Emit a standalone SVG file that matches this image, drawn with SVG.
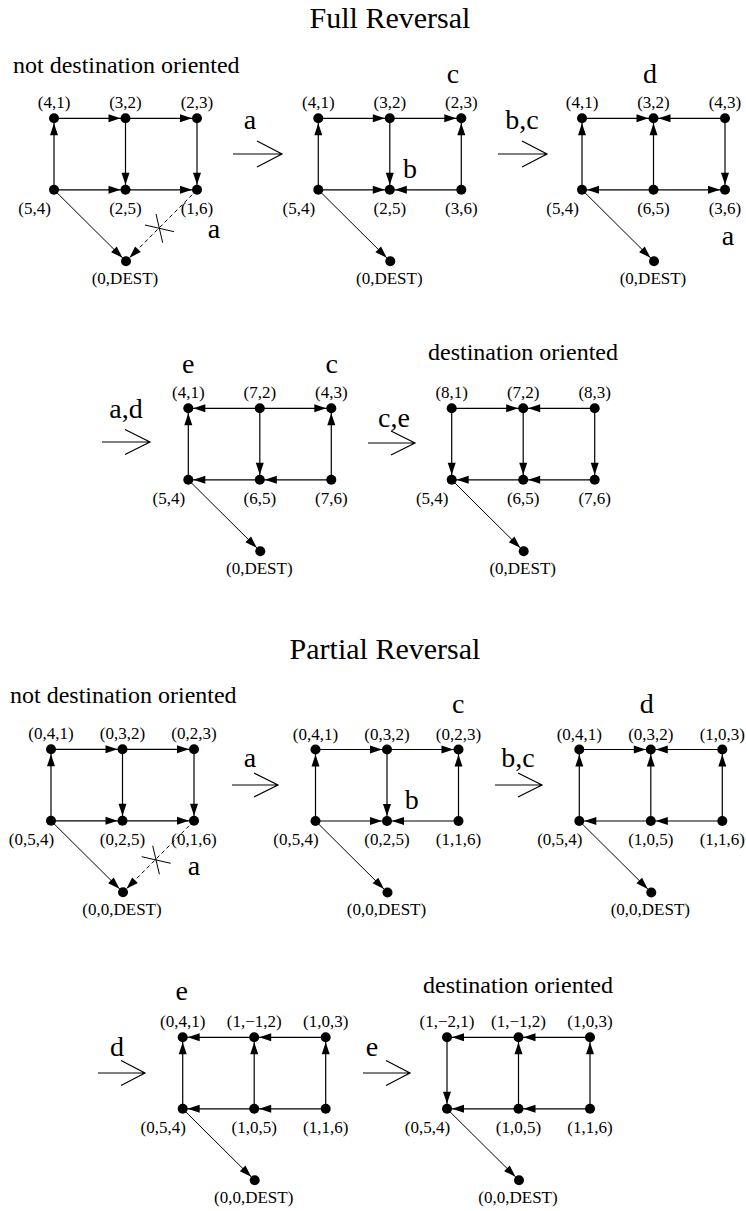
<svg xmlns="http://www.w3.org/2000/svg" width="746" height="1211" viewBox="0 0 746 1211">
<defs>
<marker id="ah" markerUnits="userSpaceOnUse" markerWidth="12" markerHeight="8" refX="17" refY="0" orient="auto" overflow="visible">
<path d="M0,-4 L12,0 L0,4 z" fill="#000"/>
</marker>
</defs>
<style>
text{font-family:"Liberation Serif","Times New Roman",serif;fill:#000}
.lbl{font-size:17px;text-anchor:middle}
.big{font-size:28px;text-anchor:middle}
.phr{font-size:24px}
.title{font-size:30px;text-anchor:middle}
.e{stroke:#000;stroke-width:1.2;fill:none;marker-end:url(#ah)}
.dg{stroke-width:1}
.dash{stroke-dasharray:4 3}
.x{stroke:#000;stroke-width:1;fill:none}
.arr{stroke:#000;stroke-width:1.2;fill:none}
circle{fill:#000}
</style>
<rect width="746" height="1211" fill="#fff"/>

<text class="title" x="390" y="28">Full Reversal</text>
<text class="phr" x="13" y="73">not destination oriented</text>
<text class="phr" x="428" y="360">destination oriented</text>
<text class="title" x="385" y="659">Partial Reversal</text>
<text class="phr" x="10" y="703">not destination oriented</text>
<text class="phr" x="423" y="993">destination oriented</text>

<g id="connectors">
 <g id="c1" transform="translate(54,118.3)">
  <line class="e" x1="0" y1="71.5" x2="0" y2="0"/>
  <line class="e" x1="0" y1="0" x2="71.5" y2="0"/>
  <line class="e" x1="71.5" y1="0" x2="143" y2="0"/>
  <line class="e" x1="71.5" y1="0" x2="71.5" y2="71.5"/>
  <line class="e" x1="143" y1="0" x2="143" y2="71.5"/>
  <line class="e" x1="0" y1="71.5" x2="71.5" y2="71.5"/>
  <line class="e" x1="71.5" y1="71.5" x2="143" y2="71.5"/>
  <line class="e dg" x1="0" y1="71.5" x2="72" y2="143"/>
  <line class="e dg dash" x1="143" y1="71.5" x2="72" y2="143"/>
  <path class="x" d="M91,106.7 L120,113.4 M102,95.7 L108.7,124.4"/>
 </g>
 <g id="c2" transform="translate(318.3,118.3)">
  <line class="e" x1="0" y1="71.5" x2="0" y2="0"/>
  <line class="e" x1="0" y1="0" x2="71.5" y2="0"/>
  <line class="e" x1="71.5" y1="0" x2="143" y2="0"/>
  <line class="e" x1="71.5" y1="0" x2="71.5" y2="71.5"/>
  <line class="e" x1="143" y1="71.5" x2="143" y2="0"/>
  <line class="e" x1="0" y1="71.5" x2="71.5" y2="71.5"/>
  <line class="e" x1="143" y1="71.5" x2="71.5" y2="71.5"/>
  <line class="e dg" x1="0" y1="71.5" x2="72" y2="143"/>
 </g>
 <g id="c3" transform="translate(582,118.3)">
  <line class="e" x1="0" y1="71.5" x2="0" y2="0"/>
  <line class="e" x1="0" y1="0" x2="71.5" y2="0"/>
  <line class="e" x1="143" y1="0" x2="71.5" y2="0"/>
  <line class="e" x1="143" y1="0" x2="143" y2="71.5"/>
  <line class="e" x1="71.5" y1="71.5" x2="71.5" y2="0"/>
  <line class="e" x1="71.5" y1="71.5" x2="0" y2="71.5"/>
  <line class="e" x1="71.5" y1="71.5" x2="143" y2="71.5"/>
  <line class="e dg" x1="0" y1="71.5" x2="72" y2="143"/>
 </g>
 <g id="c4" transform="translate(188.3,408.3)">
  <line class="e" x1="0" y1="71.5" x2="0" y2="0"/>
  <line class="e" x1="71.5" y1="0" x2="0" y2="0"/>
  <line class="e" x1="71.5" y1="0" x2="143" y2="0"/>
  <line class="e" x1="71.5" y1="0" x2="71.5" y2="71.5"/>
  <line class="e" x1="143" y1="71.5" x2="143" y2="0"/>
  <line class="e" x1="71.5" y1="71.5" x2="0" y2="71.5"/>
  <line class="e" x1="143" y1="71.5" x2="71.5" y2="71.5"/>
  <line class="e dg" x1="0" y1="71.5" x2="72" y2="143"/>
 </g>
 <g id="c5" transform="translate(451.7,408.3)">
  <line class="e" x1="0" y1="0" x2="0" y2="71.5"/>
  <line class="e" x1="0" y1="0" x2="71.5" y2="0"/>
  <line class="e" x1="143" y1="0" x2="71.5" y2="0"/>
  <line class="e" x1="71.5" y1="0" x2="71.5" y2="71.5"/>
  <line class="e" x1="143" y1="0" x2="143" y2="71.5"/>
  <line class="e" x1="71.5" y1="71.5" x2="0" y2="71.5"/>
  <line class="e" x1="143" y1="71.5" x2="71.5" y2="71.5"/>
  <line class="e dg" x1="0" y1="71.5" x2="72" y2="143"/>
 </g>
 <g id="c6" transform="translate(51,749.3)">
  <line class="e" x1="0" y1="71.5" x2="0" y2="0"/>
  <line class="e" x1="0" y1="0" x2="71.5" y2="0"/>
  <line class="e" x1="71.5" y1="0" x2="143" y2="0"/>
  <line class="e" x1="71.5" y1="0" x2="71.5" y2="71.5"/>
  <line class="e" x1="143" y1="0" x2="143" y2="71.5"/>
  <line class="e" x1="0" y1="71.5" x2="71.5" y2="71.5"/>
  <line class="e" x1="71.5" y1="71.5" x2="143" y2="71.5"/>
  <line class="e dg" x1="0" y1="71.5" x2="72" y2="143"/>
  <line class="e dg dash" x1="143" y1="71.5" x2="72" y2="143"/>
  <path class="x" d="M90.7,107.4 L119.7,114 M101.7,96.4 L108.4,125"/>
 </g>
 <g id="c7" transform="translate(315.5,749.5)">
  <line class="e" x1="0" y1="71.5" x2="0" y2="0"/>
  <line class="e" x1="0" y1="0" x2="71.5" y2="0"/>
  <line class="e" x1="71.5" y1="0" x2="143" y2="0"/>
  <line class="e" x1="71.5" y1="0" x2="71.5" y2="71.5"/>
  <line class="e" x1="143" y1="71.5" x2="143" y2="0"/>
  <line class="e" x1="0" y1="71.5" x2="71.5" y2="71.5"/>
  <line class="e" x1="143" y1="71.5" x2="71.5" y2="71.5"/>
  <line class="e dg" x1="0" y1="71.5" x2="72" y2="143"/>
 </g>
 <g id="c8" transform="translate(579.3,749.5)">
  <line class="e" x1="0" y1="71.5" x2="0" y2="0"/>
  <line class="e" x1="0" y1="0" x2="71.5" y2="0"/>
  <line class="e" x1="143" y1="0" x2="71.5" y2="0"/>
  <line class="e" x1="71.5" y1="71.5" x2="71.5" y2="0"/>
  <line class="e" x1="143" y1="71.5" x2="143" y2="0"/>
  <line class="e" x1="71.5" y1="71.5" x2="0" y2="71.5"/>
  <line class="e" x1="143" y1="71.5" x2="71.5" y2="71.5"/>
  <line class="e dg" x1="0" y1="71.5" x2="72" y2="143"/>
 </g>
 <g id="c9" transform="translate(182.7,1037.3)">
  <line class="e" x1="0" y1="71.5" x2="0" y2="0"/>
  <line class="e" x1="71.5" y1="0" x2="0" y2="0"/>
  <line class="e" x1="143" y1="0" x2="71.5" y2="0"/>
  <line class="e" x1="71.5" y1="71.5" x2="71.5" y2="0"/>
  <line class="e" x1="143" y1="71.5" x2="143" y2="0"/>
  <line class="e" x1="71.5" y1="71.5" x2="0" y2="71.5"/>
  <line class="e" x1="143" y1="71.5" x2="71.5" y2="71.5"/>
  <line class="e dg" x1="0" y1="71.5" x2="72" y2="143"/>
 </g>
 <g id="c10" transform="translate(447,1037.3)">
  <line class="e" x1="0" y1="0" x2="0" y2="71.5"/>
  <line class="e" x1="71.5" y1="0" x2="0" y2="0"/>
  <line class="e" x1="143" y1="0" x2="71.5" y2="0"/>
  <line class="e" x1="71.5" y1="71.5" x2="71.5" y2="0"/>
  <line class="e" x1="143" y1="71.5" x2="143" y2="0"/>
  <line class="e" x1="71.5" y1="71.5" x2="0" y2="71.5"/>
  <line class="e" x1="143" y1="71.5" x2="71.5" y2="71.5"/>
  <line class="e dg" x1="0" y1="71.5" x2="72" y2="143"/>
 </g>
 <g id="transitions">
  <path class="arr" d="M233,154 H282 M257,141 L282,154 L257,167"/>
  <path class="arr" d="M498,154 H547 M522,141 L547,154 L522,167"/>
  <path class="arr" d="M102,442 H150 M125,429.5 L150,442 L125,454.5"/>
  <path class="arr" d="M368,443 H415 M391,431 L415,443 L391,455"/>
  <path class="arr" d="M232,785 H278 M254,773 L278,785 L254,797"/>
  <path class="arr" d="M495,785 H542 M518,773 L542,785 L518,797"/>
  <path class="arr" d="M98,1073 H145 M121,1060.5 L145,1073 L121,1085.5"/>
  <path class="arr" d="M363,1073 H410 M386,1060.5 L410,1073 L386,1085.5"/>
  <text class="big" x="250" y="129">a</text>
  <text class="big" x="522" y="129">b,c</text>
  <text class="big" x="126" y="418">a,d</text>
  <text class="big" x="394" y="427">c,e</text>
  <text class="big" x="250" y="767">a</text>
  <text class="big" x="518" y="767">b,c</text>
  <text class="big" x="117" y="1056">d</text>
  <text class="big" x="372" y="1056">e</text>
 </g>
</g>

<g id="panel1" transform="translate(54,118.3)">
 <g id="p1-tl"><circle cx="0" cy="0" r="5"/><text class="lbl" x="0" y="-10">(4,1)</text></g>
 <g id="p1-tm"><circle cx="71.5" cy="0" r="5"/><text class="lbl" x="71.5" y="-10">(3,2)</text></g>
 <g id="p1-tr"><circle cx="143" cy="0" r="5"/><text class="lbl" x="143" y="-10">(2,3)</text></g>
 <g id="p1-bl"><circle cx="0" cy="71.5" r="5"/><text class="lbl" x="-19.5" y="95.5">(5,4)</text></g>
 <g id="p1-bm"><circle cx="71.5" cy="71.5" r="5"/><text class="lbl" x="71.5" y="95.5">(2,5)</text></g>
 <g id="p1-br"><circle cx="143" cy="71.5" r="5"/><text class="lbl" x="143" y="95.5">(1,6)</text></g>
 <g id="p1-d"><circle cx="72" cy="143" r="5"/><text class="lbl" x="71" y="165.5">(0,DEST)</text></g>
 <text class="big" x="160" y="120">a</text>
</g>

<g id="panel2" transform="translate(318.3,118.3)">
 <g id="p2-tl"><circle cx="0" cy="0" r="5"/><text class="lbl" x="0" y="-10">(4,1)</text></g>
 <g id="p2-tm"><circle cx="71.5" cy="0" r="5"/><text class="lbl" x="71.5" y="-10">(3,2)</text></g>
 <g id="p2-tr"><circle cx="143" cy="0" r="5"/><text class="lbl" x="143" y="-10">(2,3)</text></g>
 <g id="p2-bl"><circle cx="0" cy="71.5" r="5"/><text class="lbl" x="-19.5" y="95.5">(5,4)</text></g>
 <g id="p2-bm"><circle cx="71.5" cy="71.5" r="5"/><text class="lbl" x="71.5" y="95.5">(2,5)</text></g>
 <g id="p2-br"><circle cx="143" cy="71.5" r="5"/><text class="lbl" x="143" y="95.5">(3,6)</text></g>
 <g id="p2-d"><circle cx="72" cy="143" r="5"/><text class="lbl" x="71" y="165.5">(0,DEST)</text></g>
 <text class="big" x="134.7" y="-35.3">c</text>
 <text class="big" x="91.7" y="59.7">b</text>
</g>

<g id="panel3" transform="translate(582,118.3)">
 <g id="p3-tl"><circle cx="0" cy="0" r="5"/><text class="lbl" x="0" y="-10">(4,1)</text></g>
 <g id="p3-tm"><circle cx="71.5" cy="0" r="5"/><text class="lbl" x="71.5" y="-10">(3,2)</text></g>
 <g id="p3-tr"><circle cx="143" cy="0" r="5"/><text class="lbl" x="143" y="-10">(4,3)</text></g>
 <g id="p3-bl"><circle cx="0" cy="71.5" r="5"/><text class="lbl" x="-19.5" y="95.5">(5,4)</text></g>
 <g id="p3-bm"><circle cx="71.5" cy="71.5" r="5"/><text class="lbl" x="71.5" y="95.5">(6,5)</text></g>
 <g id="p3-br"><circle cx="143" cy="71.5" r="5"/><text class="lbl" x="143" y="95.5">(3,6)</text></g>
 <g id="p3-d"><circle cx="72" cy="143" r="5"/><text class="lbl" x="71" y="165.5">(0,DEST)</text></g>
 <text class="big" x="68" y="-35.3">d</text>
 <text class="big" x="146" y="126.7">a</text>
</g>

<g id="panel4" transform="translate(188.3,408.3)">
 <g id="p4-tl"><circle cx="0" cy="0" r="5"/><text class="lbl" x="0" y="-10">(4,1)</text></g>
 <g id="p4-tm"><circle cx="71.5" cy="0" r="5"/><text class="lbl" x="71.5" y="-10">(7,2)</text></g>
 <g id="p4-tr"><circle cx="143" cy="0" r="5"/><text class="lbl" x="143" y="-10">(4,3)</text></g>
 <g id="p4-bl"><circle cx="0" cy="71.5" r="5"/><text class="lbl" x="-19.5" y="95.5">(5,4)</text></g>
 <g id="p4-bm"><circle cx="71.5" cy="71.5" r="5"/><text class="lbl" x="71.5" y="95.5">(6,5)</text></g>
 <g id="p4-br"><circle cx="143" cy="71.5" r="5"/><text class="lbl" x="143" y="95.5">(7,6)</text></g>
 <g id="p4-d"><circle cx="72" cy="143" r="5"/><text class="lbl" x="71" y="165.5">(0,DEST)</text></g>
 <text class="big" x="0" y="-35.3">e</text>
 <text class="big" x="143.4" y="-35.3">c</text>
</g>

<g id="panel5" transform="translate(451.7,408.3)">
 <g id="p5-tl"><circle cx="0" cy="0" r="5"/><text class="lbl" x="0" y="-10">(8,1)</text></g>
 <g id="p5-tm"><circle cx="71.5" cy="0" r="5"/><text class="lbl" x="71.5" y="-10">(7,2)</text></g>
 <g id="p5-tr"><circle cx="143" cy="0" r="5"/><text class="lbl" x="143" y="-10">(8,3)</text></g>
 <g id="p5-bl"><circle cx="0" cy="71.5" r="5"/><text class="lbl" x="-19.5" y="95.5">(5,4)</text></g>
 <g id="p5-bm"><circle cx="71.5" cy="71.5" r="5"/><text class="lbl" x="71.5" y="95.5">(6,5)</text></g>
 <g id="p5-br"><circle cx="143" cy="71.5" r="5"/><text class="lbl" x="143" y="95.5">(7,6)</text></g>
 <g id="p5-d"><circle cx="72" cy="143" r="5"/><text class="lbl" x="71" y="165.5">(0,DEST)</text></g>
</g>

<g id="panel6" transform="translate(51,749.3)">
 <g id="p6-tl"><circle cx="0" cy="0" r="5"/><text class="lbl" x="0" y="-10">(0,4,1)</text></g>
 <g id="p6-tm"><circle cx="71.5" cy="0" r="5"/><text class="lbl" x="71.5" y="-10">(0,3,2)</text></g>
 <g id="p6-tr"><circle cx="143" cy="0" r="5"/><text class="lbl" x="143" y="-10">(0,2,3)</text></g>
 <g id="p6-bl"><circle cx="0" cy="71.5" r="5"/><text class="lbl" x="-19.5" y="95.5">(0,5,4)</text></g>
 <g id="p6-bm"><circle cx="71.5" cy="71.5" r="5"/><text class="lbl" x="71.5" y="95.5">(0,2,5)</text></g>
 <g id="p6-br"><circle cx="143" cy="71.5" r="5"/><text class="lbl" x="143" y="95.5">(0,1,6)</text></g>
 <g id="p6-d"><circle cx="72" cy="143" r="5"/><text class="lbl" x="71" y="165.5">(0,0,DEST)</text></g>
 <text class="big" x="143" y="125.7">a</text>
</g>

<g id="panel7" transform="translate(315.5,749.5)">
 <g id="p7-tl"><circle cx="0" cy="0" r="5"/><text class="lbl" x="0" y="-10">(0,4,1)</text></g>
 <g id="p7-tm"><circle cx="71.5" cy="0" r="5"/><text class="lbl" x="71.5" y="-10">(0,3,2)</text></g>
 <g id="p7-tr"><circle cx="143" cy="0" r="5"/><text class="lbl" x="143" y="-10">(0,2,3)</text></g>
 <g id="p7-bl"><circle cx="0" cy="71.5" r="5"/><text class="lbl" x="-19.5" y="95.5">(0,5,4)</text></g>
 <g id="p7-bm"><circle cx="71.5" cy="71.5" r="5"/><text class="lbl" x="71.5" y="95.5">(0,2,5)</text></g>
 <g id="p7-br"><circle cx="143" cy="71.5" r="5"/><text class="lbl" x="143" y="95.5">(1,1,6)</text></g>
 <g id="p7-d"><circle cx="72" cy="143" r="5"/><text class="lbl" x="71" y="165.5">(0,0,DEST)</text></g>
 <text class="big" x="142.8" y="-36.5">c</text>
 <text class="big" x="96.2" y="59.5">b</text>
</g>

<g id="panel8" transform="translate(579.3,749.5)">
 <g id="p8-tl"><circle cx="0" cy="0" r="5"/><text class="lbl" x="0" y="-10">(0,4,1)</text></g>
 <g id="p8-tm"><circle cx="71.5" cy="0" r="5"/><text class="lbl" x="71.5" y="-10">(0,3,2)</text></g>
 <g id="p8-tr"><circle cx="143" cy="0" r="5"/><text class="lbl" x="143" y="-10">(1,0,3)</text></g>
 <g id="p8-bl"><circle cx="0" cy="71.5" r="5"/><text class="lbl" x="-19.5" y="95.5">(0,5,4)</text></g>
 <g id="p8-bm"><circle cx="71.5" cy="71.5" r="5"/><text class="lbl" x="71.5" y="95.5">(1,0,5)</text></g>
 <g id="p8-br"><circle cx="143" cy="71.5" r="5"/><text class="lbl" x="143" y="95.5">(1,1,6)</text></g>
 <g id="p8-d"><circle cx="72" cy="143" r="5"/><text class="lbl" x="71" y="165.5">(0,0,DEST)</text></g>
 <text class="big" x="67.4" y="-36.5">d</text>
</g>

<g id="panel9" transform="translate(182.7,1037.3)">
 <g id="p9-tl"><circle cx="0" cy="0" r="5"/><text class="lbl" x="0" y="-10">(0,4,1)</text></g>
 <g id="p9-tm"><circle cx="71.5" cy="0" r="5"/><text class="lbl" x="71.5" y="-10">(1,−1,2)</text></g>
 <g id="p9-tr"><circle cx="143" cy="0" r="5"/><text class="lbl" x="143" y="-10">(1,0,3)</text></g>
 <g id="p9-bl"><circle cx="0" cy="71.5" r="5"/><text class="lbl" x="-19.5" y="95.5">(0,5,4)</text></g>
 <g id="p9-bm"><circle cx="71.5" cy="71.5" r="5"/><text class="lbl" x="71.5" y="95.5">(1,0,5)</text></g>
 <g id="p9-br"><circle cx="143" cy="71.5" r="5"/><text class="lbl" x="143" y="95.5">(1,1,6)</text></g>
 <g id="p9-d"><circle cx="72" cy="143" r="5"/><text class="lbl" x="71" y="165.5">(0,0,DEST)</text></g>
 <text class="big" x="-1" y="-37.3">e</text>
</g>

<g id="panel10" transform="translate(447,1037.3)">
 <g id="p10-tl"><circle cx="0" cy="0" r="5"/><text class="lbl" x="0" y="-10">(1,−2,1)</text></g>
 <g id="p10-tm"><circle cx="71.5" cy="0" r="5"/><text class="lbl" x="71.5" y="-10">(1,−1,2)</text></g>
 <g id="p10-tr"><circle cx="143" cy="0" r="5"/><text class="lbl" x="143" y="-10">(1,0,3)</text></g>
 <g id="p10-bl"><circle cx="0" cy="71.5" r="5"/><text class="lbl" x="-19.5" y="95.5">(0,5,4)</text></g>
 <g id="p10-bm"><circle cx="71.5" cy="71.5" r="5"/><text class="lbl" x="71.5" y="95.5">(1,0,5)</text></g>
 <g id="p10-br"><circle cx="143" cy="71.5" r="5"/><text class="lbl" x="143" y="95.5">(1,1,6)</text></g>
 <g id="p10-d"><circle cx="72" cy="143" r="5"/><text class="lbl" x="71" y="165.5">(0,0,DEST)</text></g>
</g>
</svg>
